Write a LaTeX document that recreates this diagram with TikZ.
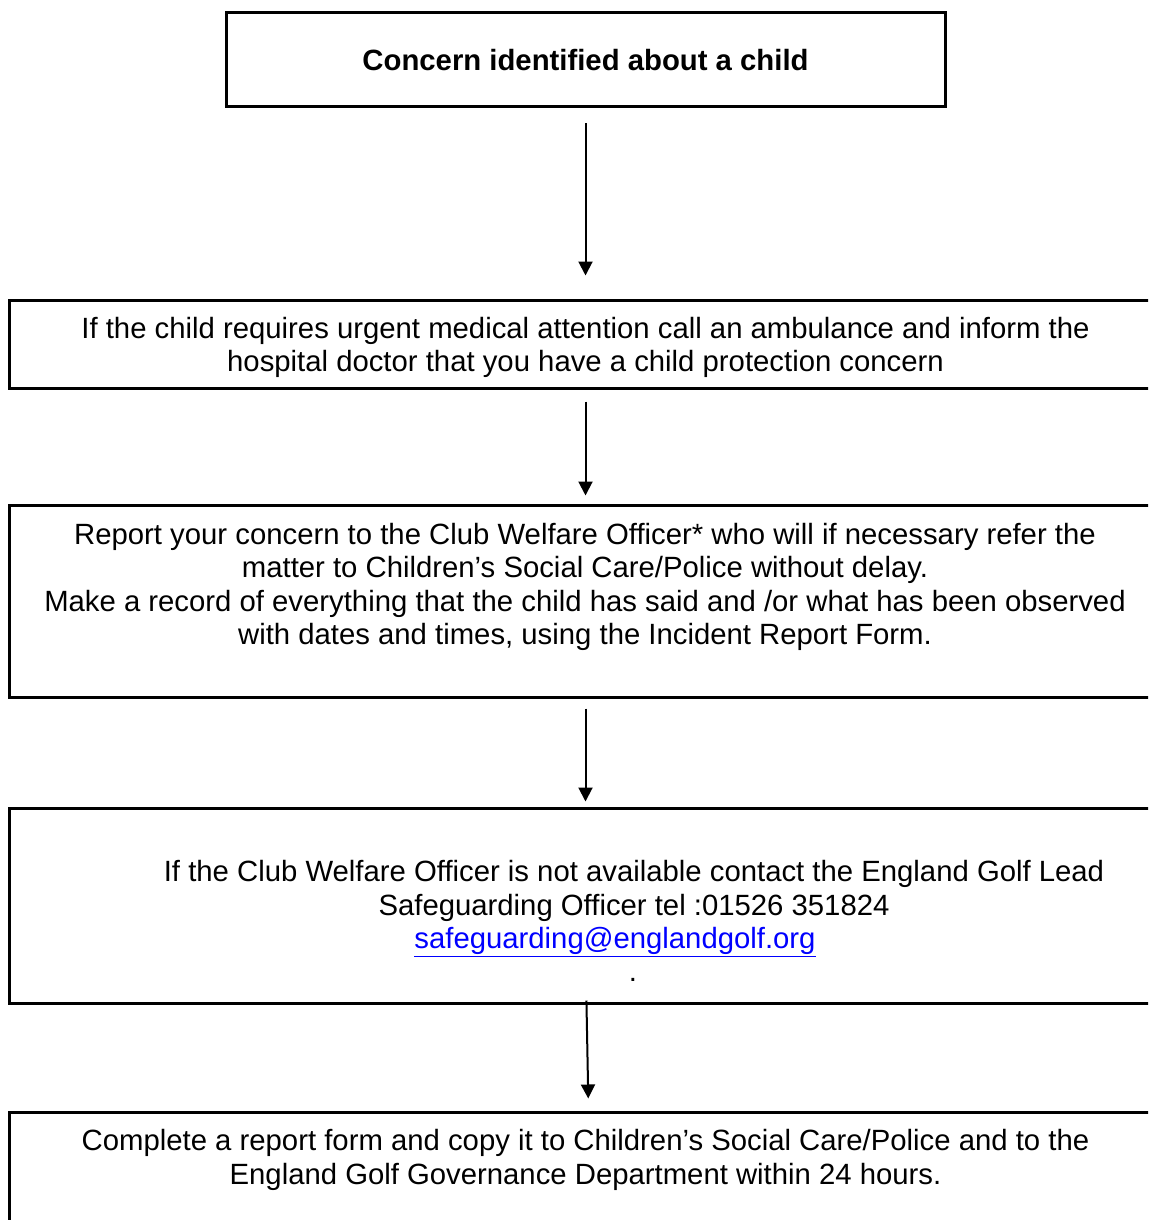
\documentclass[tikz,border=0pt]{standalone}
\usepackage{fontspec}
\setmainfont{Liberation Sans}
\usepackage{xcolor}
\usetikzlibrary{arrows.meta}

\begin{document}
\begin{tikzpicture}[x=0.5pt, y=-0.5pt, inner sep=0pt]
		\tikzstyle{every node}=[align=center, font=\fontsize{14.65}{16.75}\selectfont]
		\tikzstyle{stagebox}=[draw, line width=1.5pt, minimum width=573pt]
		\tikzstyle{flow}=[line width=1pt, -{Triangle[width=7pt, length=7pt]}]
			\useasboundingbox (0, 0) rectangle (1148, 1220);
			\clip (0, 0) rectangle (1148, 1220);

			\node[draw, line width=1.5pt, minimum width=359.5pt, minimum height=47pt] (concern) at (585.5, 60) {\bfseries Concern identified about a child};
			\node[stagebox, minimum height=44pt] (medical) at (582, 344) {};
			\node[stagebox, minimum height=96pt] (report) at (582, 601) {};
			\node[stagebox, minimum height=97.5pt] (lead) at (582, 905.5) {};
			\node[stagebox, minimum height=64pt] (form) at (582, 1176) {};

			\node (medicaltext) at (585.5, 347.4) {If the child requires urgent medical attention call an ambulance and inform the\\ hospital doctor that you have a child protection concern};
			\node (reporttext) at (585, 586.9) {Report your concern to the Club Welfare Officer* who will if necessary refer the\\ matter to Children’s Social Care/Police without delay.\\ Make a record of everything that the child has said and /or what has been observed\\ with dates and times, using the Incident Report Form.};
			\node (leadtext) at (634, 890.9) {If the Club Welfare Officer is not available contact the England Golf Lead\\ Safeguarding Officer tel :01526 351824};
			\node[anchor=base] (email) at (615, 948) {\textcolor{blue}{\underline{safeguarding@englandgolf.org}}};
			\node[anchor=base] (dot) at (633, 981) {.};
			\node (formtext) at (585.5, 1160) {Complete a report form and copy it to Children’s Social Care/Police and to the\\ England Golf Governance Department within 24 hours.};

			\draw[flow, shorten <=7.5pt, shorten >=11.5pt] (concern.south) -- (medical.north -| concern.south);
			\draw[flow, shorten <=6pt, shorten >=4pt] (medical.south -| concern.south) -- (report.north -| concern.south);
			\draw[flow, shorten <=5pt, shorten >=2.5pt] (report.south -| concern.south) -- (lead.north -| concern.south);
			\draw[flow, shorten <=-2pt, shorten >=6pt] ([xshift=0.5pt]lead.south -| concern.south) -- ([xshift=1.5pt]form.north -| concern.south);
		\end{tikzpicture}
\end{document}
